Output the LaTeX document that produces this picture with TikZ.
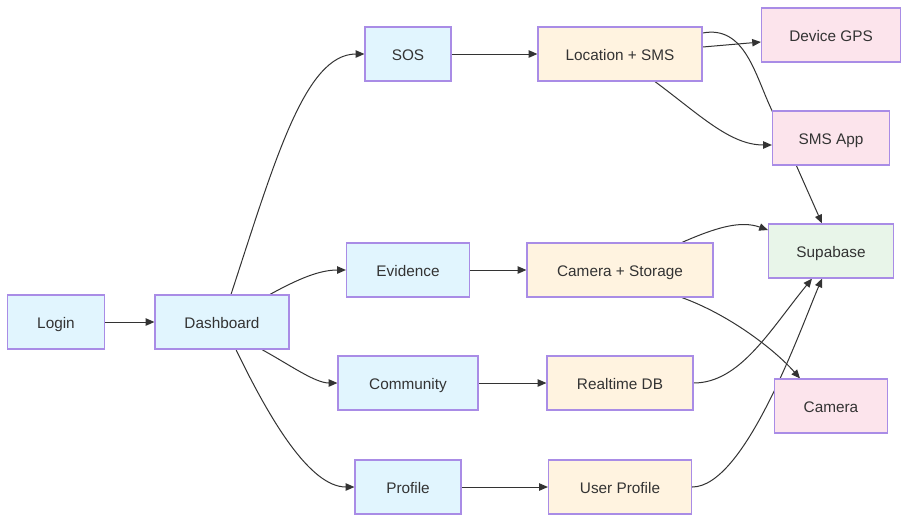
\documentclass[tikz,border=0pt]{standalone}
\usepackage{fontspec}
\setmainfont{Liberation Sans}
\usetikzlibrary{calc,arrows.meta,backgrounds}
\definecolor{bordercol}{HTML}{A98CE6}
\definecolor{txtcol}{HTML}{333333}
\definecolor{blfill}{HTML}{E1F5FE}
\definecolor{orfill}{HTML}{FFF3E0}
\definecolor{pkfill}{HTML}{FCE4EC}
\definecolor{grfill}{HTML}{E8F5E9}
\definecolor{edgecol}{HTML}{333333}
\begin{document}
\begin{tikzpicture}[x=0.75pt,y=-0.75pt,
  box/.style={draw=bordercol, line width=0.9pt, inner sep=0pt, minimum height=40.5pt,
    text height=10pt, text depth=0.8pt,
    text=txtcol, font=\fontsize{11.5}{14}\selectfont},
  wd/.style={minimum width={#1*0.75pt}},
  blue/.style={box, fill=blfill},
  orange/.style={box, fill=orfill},
  pink/.style={box, fill=pkfill},
  green/.style={box, fill=grfill},
  conn/.style={draw=edgecol, line width=0.75pt, -{Triangle[length=6.5pt,width=5.5pt]}}]
\useasboundingbox (0,0) rectangle (917,526);

\node[blue, wd=97]  (login) at (56,322) {Login};
\node[blue, wd=134] (dash)  at (222,322) {Dashboard};
\node[blue, wd=86]  (sos)   at (408,54) {SOS};
\node[blue, wd=123] (evid)  at (408,270) {Evidence};
\node[blue, wd=140] (comm)  at (408,383) {Community};
\node[blue, wd=106] (prof)  at (408,487) {Profile};
\node[orange, wd=164] (loc) at (620,54) {Location + SMS};
\node[orange, wd=186] (cs)  at (620,270) {Camera + Storage};
\node[orange, wd=146] (rt)  at (620,383) {Realtime DB};
\node[orange, wd=143] (up)  at (620,487) {User Profile};
\node[pink, wd=139] (gps)    at (831,35) {Device GPS};
\node[pink, wd=117] (smsapp) at (831,138) {SMS App};
\node[green, wd=125] (supa)  at (831,251) {Supabase};
\node[pink, wd=113] (cam)    at (831,406) {Camera};

\begin{scope}[on background layer]
\fill[white] (0,0) rectangle (917,526);
\draw[conn] (login) -- (dash);
\draw[conn] ($(dash.north)+(9,0)$) .. controls (275,160) and (305,54) .. (sos.west);
\draw[conn] ($(dash.north)+(48,0)$) .. controls (300,278) and (320,270) .. (evid.west);
\draw[conn] ($(dash.south)+(40,0)$) .. controls (290,365) and (315,383) .. (comm.west);
\draw[conn] ($(dash.south)+(14,0)$) .. controls (270,420) and (310,487) .. (prof.west);
\draw[conn] (sos) -- (loc);
\draw[conn] (evid) -- (cs);
\draw[conn] (comm) -- (rt);
\draw[conn] (prof) -- (up);
\draw[conn] ($(loc.east)+(0,-7)$) -- ($(gps.west)+(0,7)$);
\draw[conn] ($(loc.south)+(35,0)$) .. controls (700,115) and (730,145) .. ($(smsapp.west)+(0,7)$);
\draw[conn] ($(loc.east)+(0,-21)$) .. controls (745,25) and (755,75) .. (smsapp.north west) -- ($(supa.north)+(-9,0)$);
\draw[conn] ($(cs.north)+(62,0)$) .. controls (715,228) and (740,220) .. ($(supa.west)+(0,-21)$);
\draw[conn] ($(cs.south)+(62,0)$) .. controls (730,315) and (775,350) .. ($(cam.north)+(-31,0)$);
\draw[conn] (rt.east) .. controls (740,383) and (770,330) .. ($(supa.south)+(-19,0)$);
\draw[conn] (up.east) .. controls (745,487) and (800,330) .. ($(supa.south)+(-9,0)$);
\end{scope}
\end{tikzpicture}
\end{document}
